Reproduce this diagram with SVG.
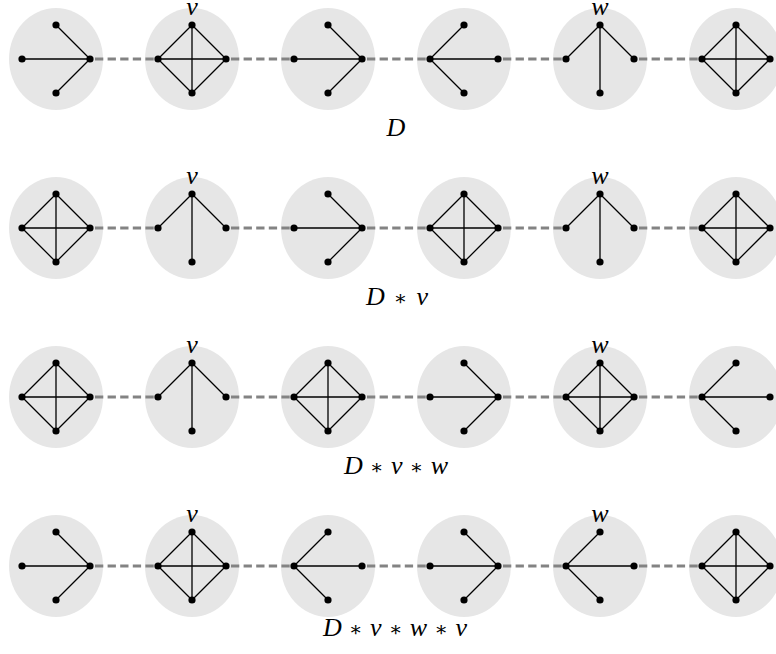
<svg xmlns="http://www.w3.org/2000/svg" width="776" height="654" viewBox="0 0 776 654">
<style>
.bg{fill:#e6e6e6;stroke:none}
.e{fill:none;stroke:#000;stroke-width:1.3}
.d{fill:#000}
.c{stroke:#838383;stroke-width:3;stroke-dasharray:8.3 4.3;fill:none}
.m{font-family:"Liberation Serif","DejaVu Serif",serif;font-style:italic;font-size:26px;fill:#000;text-anchor:middle}
.op{font-style:normal;font-family:"DejaVu Serif","Liberation Serif",serif;font-size:20px}
</style>
<defs>
<g id="dots"><circle class="d" cx="-34" cy="0" r="3.6"/><circle class="d" cx="34" cy="0" r="3.6"/><circle class="d" cx="0" cy="-34" r="3.6"/><circle class="d" cx="0" cy="34" r="3.6"/></g>
<path id="K4" class="e" d="M0,-34L-34,0M0,-34L34,0M0,34L-34,0M0,34L34,0M-34,0L34,0M0,-34L0,34"/>
<path id="SR" class="e" d="M34,0L-34,0M34,0L0,-34M34,0L0,34"/>
<path id="SL" class="e" d="M-34,0L34,0M-34,0L0,-34M-34,0L0,34"/>
<path id="ST" class="e" d="M0,-34L-34,0M0,-34L34,0M0,-34L0,34"/>
</defs>
<!-- Row 1 -->
<g id="r1c1" transform="translate(56,59)"><ellipse class="bg" rx="47" ry="51"/><use href="#SR"/><use href="#dots"/></g>
<g id="r1c2" transform="translate(192,59)"><ellipse class="bg" rx="47" ry="51"/><use href="#K4"/><use href="#dots"/></g>
<g id="r1c3" transform="translate(328,59)"><ellipse class="bg" rx="47" ry="51"/><use href="#SR"/><use href="#dots"/></g>
<g id="r1c4" transform="translate(464,59)"><ellipse class="bg" rx="47" ry="51"/><use href="#SL"/><use href="#dots"/></g>
<g id="r1c5" transform="translate(600,59)"><ellipse class="bg" rx="47" ry="51"/><use href="#ST"/><use href="#dots"/></g>
<g id="r1c6" transform="translate(736,59)"><ellipse class="bg" rx="47" ry="51"/><use href="#K4"/><use href="#dots"/></g>
<!-- Row 2 -->
<g id="r2c1" transform="translate(56,228)"><ellipse class="bg" rx="47" ry="51"/><use href="#K4"/><use href="#dots"/></g>
<g id="r2c2" transform="translate(192,228)"><ellipse class="bg" rx="47" ry="51"/><use href="#ST"/><use href="#dots"/></g>
<g id="r2c3" transform="translate(328,228)"><ellipse class="bg" rx="47" ry="51"/><use href="#SR"/><use href="#dots"/></g>
<g id="r2c4" transform="translate(464,228)"><ellipse class="bg" rx="47" ry="51"/><use href="#K4"/><use href="#dots"/></g>
<g id="r2c5" transform="translate(600,228)"><ellipse class="bg" rx="47" ry="51"/><use href="#ST"/><use href="#dots"/></g>
<g id="r2c6" transform="translate(736,228)"><ellipse class="bg" rx="47" ry="51"/><use href="#K4"/><use href="#dots"/></g>
<!-- Row 3 -->
<g id="r3c1" transform="translate(56,397)"><ellipse class="bg" rx="47" ry="51"/><use href="#K4"/><use href="#dots"/></g>
<g id="r3c2" transform="translate(192,397)"><ellipse class="bg" rx="47" ry="51"/><use href="#ST"/><use href="#dots"/></g>
<g id="r3c3" transform="translate(328,397)"><ellipse class="bg" rx="47" ry="51"/><use href="#K4"/><use href="#dots"/></g>
<g id="r3c4" transform="translate(464,397)"><ellipse class="bg" rx="47" ry="51"/><use href="#SR"/><use href="#dots"/></g>
<g id="r3c5" transform="translate(600,397)"><ellipse class="bg" rx="47" ry="51"/><use href="#K4"/><use href="#dots"/></g>
<g id="r3c6" transform="translate(736,397)"><ellipse class="bg" rx="47" ry="51"/><use href="#SL"/><use href="#dots"/></g>
<!-- Row 4 -->
<g id="r4c1" transform="translate(56,566)"><ellipse class="bg" rx="47" ry="51"/><use href="#SR"/><use href="#dots"/></g>
<g id="r4c2" transform="translate(192,566)"><ellipse class="bg" rx="47" ry="51"/><use href="#K4"/><use href="#dots"/></g>
<g id="r4c3" transform="translate(328,566)"><ellipse class="bg" rx="47" ry="51"/><use href="#SL"/><use href="#dots"/></g>
<g id="r4c4" transform="translate(464,566)"><ellipse class="bg" rx="47" ry="51"/><use href="#SR"/><use href="#dots"/></g>
<g id="r4c5" transform="translate(600,566)"><ellipse class="bg" rx="47" ry="51"/><use href="#SL"/><use href="#dots"/></g>
<g id="r4c6" transform="translate(736,566)"><ellipse class="bg" rx="47" ry="51"/><use href="#K4"/><use href="#dots"/></g>
<!-- connectors -->
<g id="connectors">
<path class="c" d="M95,59H158M231,59H294M367,59H430M503,59H566M639,59H702"/>
<path class="c" d="M95,228H158M231,228H294M367,228H430M503,228H566M639,228H702"/>
<path class="c" d="M95,397H158M231,397H294M367,397H430M503,397H566M639,397H702"/>
<path class="c" d="M95,566H158M231,566H294M367,566H430M503,566H566M639,566H702"/>
</g>
<!-- labels -->
<g id="labels">
<text class="m" x="192" y="15">v</text>
<text class="m" x="600" y="15">w</text>
<text class="m" x="192" y="184">v</text>
<text class="m" x="600" y="184">w</text>
<text class="m" x="192" y="353">v</text>
<text class="m" x="600" y="353">w</text>
<text class="m" x="192" y="522">v</text>
<text class="m" x="600" y="522">w</text>
<text class="m" x="396" y="136">D</text>
<text class="m" x="397" y="305" textLength="62" lengthAdjust="spacing">D <tspan class="op">∗</tspan> v</text>
<text class="m" x="396" y="474" textLength="104" lengthAdjust="spacing">D <tspan class="op">∗</tspan> v <tspan class="op">∗</tspan> w</text>
<text class="m" x="395" y="636" textLength="144" lengthAdjust="spacing">D <tspan class="op">∗</tspan> v <tspan class="op">∗</tspan> w <tspan class="op">∗</tspan> v</text>
</g>
</svg>
